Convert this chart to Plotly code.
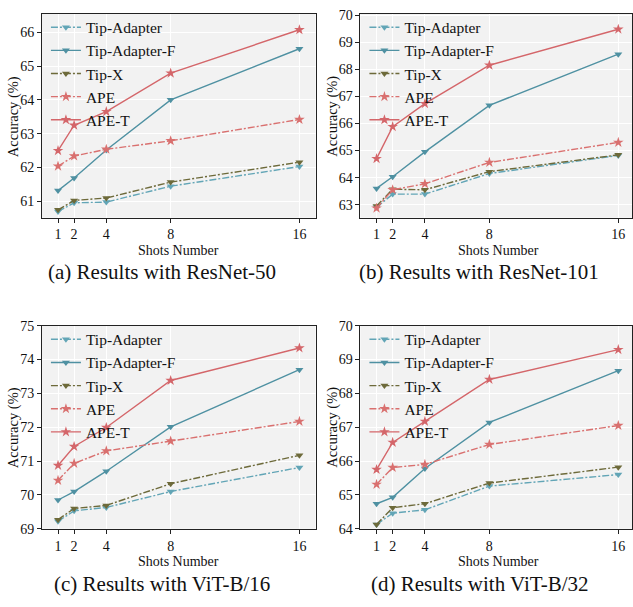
import plotly.graph_objects as go

shots = [1, 2, 4, 8, 16]
series_names = ["Tip-Adapter", "Tip-Adapter-F", "Tip-X", "APE", "APE-T"]

resnet50 = {
    "Tip-Adapter":   [60.70, 60.96, 60.98, 61.45, 62.03],
    "Tip-Adapter-F": [61.32, 61.69, 62.52, 64.00, 65.51],
    "Tip-X":         [60.75, 61.03, 61.10, 61.57, 62.16],
    "APE":           [62.04, 62.34, 62.54, 62.79, 63.42],
    "APE-T":         [62.50, 63.25, 63.65, 64.79, 66.07],
}
resnet101 = {
    "Tip-Adapter":   [62.90, 63.39, 63.39, 64.15, 64.82],
    "Tip-Adapter-F": [63.60, 64.03, 64.95, 66.67, 68.56],
    "Tip-X":         [62.95, 63.57, 63.55, 64.22, 64.84],
    "APE":           [62.87, 63.55, 63.77, 64.56, 65.30],
    "APE-T":         [64.70, 65.88, 66.73, 68.15, 69.48],
}
vitb16 = {
    "Tip-Adapter":   [69.22, 69.53, 69.63, 70.10, 70.81],
    "Tip-Adapter-F": [69.85, 70.10, 70.70, 72.01, 73.70],
    "Tip-X":         [69.27, 69.60, 69.69, 70.33, 71.17],
    "APE":           [70.43, 70.93, 71.30, 71.59, 72.17],
    "APE-T":         [70.87, 71.43, 71.99, 73.38, 74.34],
}
vitb32 = {
    "Tip-Adapter":   [64.13, 64.46, 64.56, 65.26, 65.60],
    "Tip-Adapter-F": [64.74, 64.93, 65.78, 67.14, 68.67],
    "Tip-X":         [64.13, 64.62, 64.74, 65.35, 65.82],
    "APE":           [65.31, 65.81, 65.90, 66.49, 67.05],
    "APE-T":         [65.75, 66.55, 67.17, 68.41, 69.29],
}
panels = [resnet50, resnet101, vitb16, vitb32]
captions = ["(a) Results with ResNet-50", "(b) Results with ResNet-101",
            "(c) Results with ViT-B/16", "(d) Results with ViT-B/32"]
x_title = "Shots Number"
y_title = "Accuracy (%)"
y_ticks = [[61, 62, 63, 64, 65, 66], [63, 64, 65, 66, 67, 68, 69, 70],
           [69, 70, 71, 72, 73, 74, 75], [64, 65, 66, 67, 68, 69, 70]]
y_ranges = [[60.52, 66.55], [62.52, 70.06], [69, 75], [64, 70]]

styles = {
    "Tip-Adapter":   dict(color="#62a5b6", dash="7px,2px,2px,2px", symbol="triangle-down"),
    "Tip-Adapter-F": dict(color="#4f91a2", dash="solid", symbol="triangle-down"),
    "Tip-X":         dict(color="#6d6a3a", dash="7px,2px,2px,2px", symbol="triangle-down"),
    "APE":           dict(color="#d9706f", dash="7px,2px,2px,2px", symbol="star"),
    "APE-T":         dict(color="#d4666a", dash="solid", symbol="star"),
}

W, H = 633, 607
FONT = "Liberation Serif"
xdoms = [[42 / W, 316 / W], [361 / W, 1.0], [42 / W, 316 / W], [361 / W, 1.0]]
ydoms = [[1 - 216 / H, 1 - 6.7 / H], [1 - 216 / H, 1 - 6.7 / H],
         [1 - 535 / H, 1 - 326.7 / H], [1 - 535 / H, 1 - 326.7 / H]]
x_ranges = [[0, 17], [0, 16.85], [0, 17], [0, 16.85]]
xtitle_x = [179, 499, 179, 499]
xtitle_y = [250, 250, 569, 569]
ytitle_x = [13, 333, 13, 333]
ytitle_y = [112, 112, 431, 431]
cap_x = [162, 480, 162, 481]
cap_y = [272, 272, 592, 592]

fig = go.Figure()
layout = dict(width=W, height=H, margin=dict(l=0, r=0, t=0, b=0),
              paper_bgcolor="white", plot_bgcolor="#f2f2f2",
              font=dict(family=FONT, color="#111"), annotations=[])

for i, data in enumerate(panels):
    k = "" if i == 0 else str(i + 1)
    for name in series_names:
        s = styles[name]
        fig.add_trace(go.Scatter(
            x=shots, y=data[name], name=name, mode="lines+markers",
            xaxis="x" + k, yaxis="y" + k, legend="legend" + k,
            line=dict(color=s["color"], width=1.4, dash=s["dash"]),
            marker=dict(symbol=s["symbol"], size=8 if s["symbol"] == "star" else 7,
                        color=s["color"], line=dict(width=0)),
        ))
    axcommon = dict(showline=True, linecolor="#222", linewidth=1, mirror=True,
                    ticks="outside", ticklen=4, tickcolor="#222", tickwidth=1,
                    showgrid=True, gridcolor="white", gridwidth=1, zeroline=False,
                    tickfont=dict(family=FONT, size=14, color="#111"))
    layout["xaxis" + k] = dict(domain=xdoms[i], range=x_ranges[i], tickvals=shots,
                               anchor="y" + k, **axcommon)
    layout["yaxis" + k] = dict(domain=ydoms[i], range=y_ranges[i], tickvals=y_ticks[i],
                               anchor="x" + k, **axcommon)
    layout["legend" + k] = dict(x=xdoms[i][0] + 4 / W, y=ydoms[i][1] + 3 / H,
                                xanchor="left", yanchor="top", bgcolor="rgba(0,0,0,0)",
                                font=dict(family=FONT, size=15.5, color="#111"),
                                itemwidth=30, tracegroupgap=0)
    layout["annotations"] += [
        dict(text=x_title, x=xtitle_x[i] / W, y=1 - xtitle_y[i] / H, xref="paper",
             yref="paper", showarrow=False, xanchor="center", yanchor="middle",
             borderpad=0, font=dict(family=FONT, size=14, color="#111")),
        dict(text=y_title, x=ytitle_x[i] / W, y=1 - ytitle_y[i] / H, xref="paper",
             yref="paper", showarrow=False, xanchor="center", yanchor="middle",
             textangle=-90, font=dict(family=FONT, size=14.5, color="#111")),
        dict(text=captions[i], x=cap_x[i] / W, y=1 - cap_y[i] / H, xref="paper",
             yref="paper", showarrow=False, xanchor="center", yanchor="middle",
             font=dict(family=FONT, size=21, color="#111")),
    ]

fig.update_layout(**layout)
fig.write_html("out.html")
